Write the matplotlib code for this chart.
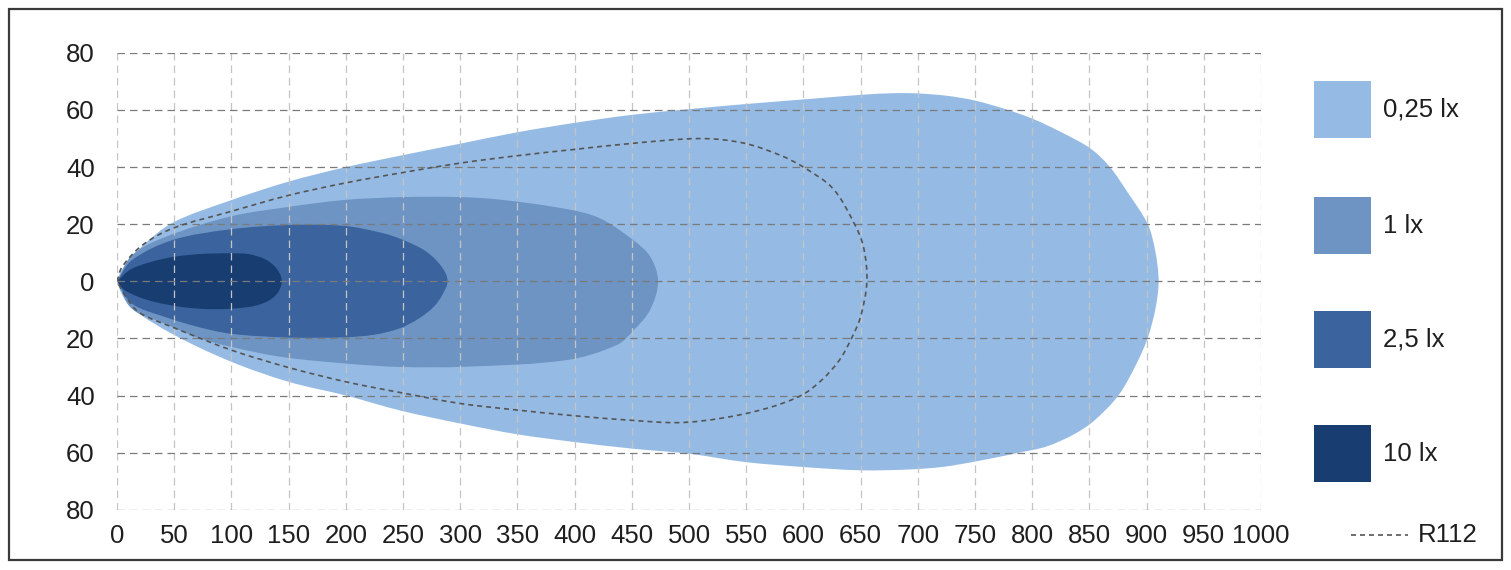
import numpy as np
import matplotlib
matplotlib.use("Agg")
import matplotlib.pyplot as plt
from matplotlib.path import Path
from matplotlib.patches import PathPatch, Rectangle
from matplotlib.lines import Line2D

plt.rcParams['font.family'] = ['Liberation Sans', 'DejaVu Sans']
FS = 18.5

# isolux contours (distance m, lateral m)
lx025_x = [0, 4.4, 22, 49, 99, 149, 199, 250, 300, 350, 400, 450, 500, 550, 600, 650, 679, 700, 725,
           749, 775, 800, 825, 851, 868, 883, 901, 907.6, 910.5,
           907.6, 901, 891.5, 875.5, 853.6, 836, 813, 790, 752, 722, 693, 650, 598, 549, 500, 450,
           400, 350, 300, 248, 200, 150, 100, 50, 13, 4, 0]
lx025_y = [0, 4.2, 12.3, 20.6, 28.3, 34.8, 39.9, 44.2, 48.2, 52.2, 55.5, 58.3, 60.3, 62.1, 63.7, 65.3, 65.9, 65.8, 65.0,
           63.4, 60.5, 57.0, 52.3, 46.5, 40.0, 31.4, 20.0, 10.5, 0,
           -9.9, -19.8, -28.6, -39.9, -49.0, -53.7, -57.8, -59.9, -63.0, -65.0, -65.9, -66.2, -65.0, -63.3, -60.4, -58.6,
           -56.3, -53.6, -49.8, -45.3, -40.0, -35.2, -28.2, -18.8, -9.5, -4.3, 0]

lx1_x = [0, 13, 42, 99, 149, 199, 250, 300, 335, 393, 422, 451, 466, 473,
         466, 452, 437, 393, 306, 247, 200, 144, 100, 71, 42, 13, 0]
lx1_y = [0, 9.1, 15.5, 22.7, 26.0, 28.5, 29.5, 29.5, 28.6, 25.3, 22.1, 14.5, 8.7, 0,
         -10, -17, -22.3, -27.6, -29.9, -30.0, -28.8, -26.5, -23.0, -19.8, -14.9, -9.6, 0]

lx25_x = [0, 13, 49, 99, 149, 199, 233, 250, 270, 284, 289,
          284, 277, 264, 247, 225, 200, 150, 100, 71, 42, 13, 0]
lx25_y = [0, 7.4, 14.5, 18.2, 19.7, 19.4, 16.8, 14.5, 10.5, 5, 0,
          -5, -8.9, -13, -16.5, -18.7, -19.6, -19.7, -18.4, -16, -12.5, -7.8, 0]

lx10_x = [0, 13, 42, 71, 100, 115, 130, 140, 144, 140, 130, 115, 86, 57, 28, 7, 0]
lx10_y = [0, 4.4, 8, 9.5, 9.8, 9.5, 7.6, 4.2, 0, -4.3, -7.3, -9, -9.8, -9, -6.7, -3.2, 0]

r112_x = [0, 4.4, 22, 49, 99, 149, 199, 250, 300, 350, 400, 450, 510, 548, 580, 600, 626, 645,
          652.6, 655.5, 650, 642, 631.5, 616, 598, 567, 527.5, 491, 450, 400, 350, 300, 248, 200,
          150, 100, 50, 19, 7, 0]
r112_y = [0, 5, 12.6, 18.6, 24.4, 30, 34.4, 38.1, 41.4, 44.0, 46.2, 48.3, 50, 48.4, 44.1, 40, 32.4, 19.8,
          11.9, 0, -12.4, -20, -27.6, -34.6, -40, -44.6, -48, -49.5, -48.7, -47.1, -45.1, -42.8, -39, -35.2,
          -30.2, -24.1, -16.3, -10.8, -4.9, 0]

labels = ["0,25 lx", "1 lx", "2,5 lx", "10 lx"]
colors = ["#95bbe5", "#6e94c3", "#3b649e", "#173d71"]

xticks = list(range(0, 1001, 50))
yticks = list(range(-80, 81, 20))


def smooth_path(xs, ys, ysc=2.5):
    # bezier curve through the read points; tangents taken from the neighbours,
    # handle length from the chord (y scaled so both axes are about the same in pixels)
    pts = np.column_stack([xs, np.asarray(ys, float) * ysc]).astype(float)
    n = len(pts)
    tang = np.zeros_like(pts)
    for i in range(n):
        d = pts[min(i + 1, n - 1)] - pts[max(i - 1, 0)]
        tang[i] = d / np.hypot(*d)
    verts = [pts[0]]
    codes = [Path.MOVETO]
    for i in range(n - 1):
        L = np.hypot(*(pts[i + 1] - pts[i]))
        verts += [pts[i] + tang[i] * L / 3, pts[i + 1] - tang[i + 1] * L / 3, pts[i + 1]]
        codes += [Path.CURVE4] * 3
    verts = np.array(verts)
    verts[:, 1] /= ysc
    return Path(verts, codes)


W, H = 1511, 570
fig = plt.figure(figsize=(W / 100, H / 100), dpi=100)
ax = fig.add_axes([117 / W, 1 - 509.7 / H, (1261 - 117) / W, (509.7 - 52.9) / H])

shapes = [(lx025_x, lx025_y), (lx1_x, lx1_y), (lx25_x, lx25_y), (lx10_x, lx10_y)]
for (xs, ys), c in zip(shapes, colors):
    ax.add_patch(PathPatch(smooth_path(xs, ys), facecolor=c, edgecolor="none", zorder=1))

ax.add_patch(PathPatch(smooth_path(r112_x, r112_y), fill=False, edgecolor="#555555",
                       linewidth=1.2, linestyle=(0, (3, 2.4)), zorder=3))

ax.set_xlim(0, 1000)
ax.set_ylim(-80, 80)
ax.set_xticks(xticks)
ax.set_yticks(yticks)
ax.set_yticklabels([str(abs(v)) for v in yticks])
ax.tick_params(length=0, labelsize=FS, labelcolor="#1e1e1e")
ax.tick_params(axis="y", pad=16)
ax.tick_params(axis="x", pad=10)
for s in ax.spines.values():
    s.set_visible(False)

ax.set_axisbelow(False)
ax.grid(axis="y", color="#7a7a7a", linewidth=0.9, linestyle=(0, (6, 4)), zorder=2.5)
ax.grid(axis="x", color="#c4c4c4", linewidth=0.9, linestyle=(0, (6, 4)), zorder=2.5)

# legend drawn by hand on the figure
box_tops = [81, 197, 311, 425]
for top, c, lab in zip(box_tops, colors, labels):
    fig.add_artist(Rectangle((1314 / W, 1 - (top + 57) / H), 57 / W, 57 / H,
                             transform=fig.transFigure, facecolor=c, edgecolor="none"))
    fig.text(1383 / W, 1 - (top + 29) / H, lab, fontsize=FS, color="#1e1e1e",
             va="center", ha="left")

fig.add_artist(Line2D([1351 / W, 1408 / W], [1 - 535 / H, 1 - 535 / H], transform=fig.transFigure,
                      color="#555555", linewidth=1.2, linestyle=(0, (3, 2.4))))
fig.text(1418 / W, 1 - 535 / H, "R112", fontsize=FS, color="#1e1e1e", va="center", ha="left")

# outer frame
fig.add_artist(Rectangle((9 / W, 1 - 560 / H), (1502 - 9) / W, (560 - 9) / H,
                         transform=fig.transFigure, fill=False, edgecolor="#3a3a3a", linewidth=1.6))

fig.savefig("out.png", dpi=100)
